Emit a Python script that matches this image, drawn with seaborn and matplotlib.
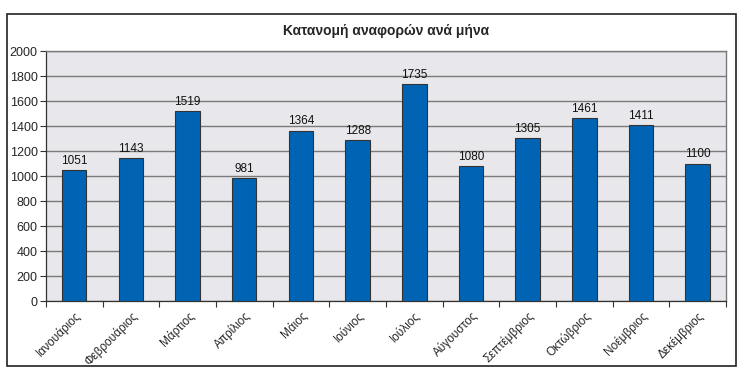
import matplotlib
matplotlib.use("Agg")
import matplotlib.pyplot as plt
import seaborn as sns
import pandas as pd
import numpy as np
from matplotlib.patches import Rectangle

months = ["Ιανουάριος", "Φεβρουάριος", "Μάρτιος", "Απρίλιος", "Μάιος", "Ιούνιος",
          "Ιούλιος", "Αύγουστος", "Σεπτέμβριος", "Οκτώβριος", "Νοέμβριος", "Δεκέμβριος"]
counts = [1051, 1143, 1519, 981, 1364, 1288, 1735, 1080, 1305, 1461, 1411, 1100]
title = "Κατανομή αναφορών ανά μήνα"
yticks = list(range(0, 2001, 200))

sns.set_theme(style="white")
plt.rcParams['font.family'] = ['Liberation Sans', 'DejaVu Sans']

df = pd.DataFrame({"month": months, "count": counts})

fig = plt.figure(figsize=(7.5, 3.9), dpi=100)
ax = fig.add_axes([0.0613, 0.228, 0.9067, 0.641])
ax.set_facecolor("#E8E8EC")

sns.barplot(data=df, x="month", y="count", color="#0063B4", saturation=1,
            width=0.43, edgecolor="#333333", linewidth=0.8, ax=ax, zorder=3)

ax.set_ylim(0, 2000)
ax.set_xlim(-0.5, len(months) - 0.5)
ax.set_yticks(yticks)
ax.set_yticklabels([str(v) for v in yticks], fontsize=9)
ax.yaxis.grid(True, color="#7A7A7A", linewidth=1.0, zorder=1)
ax.set_axisbelow(True)

ax.set_xticks(range(len(months)))
ax.set_xticklabels(months, rotation=45, ha="right", rotation_mode="anchor", fontsize=8.5)
ax.tick_params(axis="x", which="major", length=0, pad=6)
ax.set_xticks(np.arange(-0.5, len(months), 1), minor=True)
ax.tick_params(axis="x", which="minor", length=4, width=0.8, color="#333333", bottom=True)
ax.tick_params(axis="y", length=4, width=0.8, color="#333333", left=True, pad=2)
ax.set_xlabel("")
ax.set_ylabel("")

for s in ["top", "right"]:
    ax.spines[s].set_visible(True)
    ax.spines[s].set_color("#7A7A7A")
    ax.spines[s].set_linewidth(1.0)
for s in ["left", "bottom"]:
    ax.spines[s].set_color("#333333")
    ax.spines[s].set_linewidth(0.9)

for i, v in enumerate(counts):
    ax.text(i, v + 25, str(v), ha="center", va="bottom", fontsize=8.5, color="#111111", zorder=4)

fig.text(0.515, 0.92, title, ha="center", va="center", fontsize=10, fontweight="bold")

fig.patches.append(Rectangle((0.0093, 0.0615), 0.9720, 0.9025, transform=fig.transFigure,
                             fill=False, edgecolor="#222222", linewidth=1.2))

fig.savefig("out.png", dpi=100)
